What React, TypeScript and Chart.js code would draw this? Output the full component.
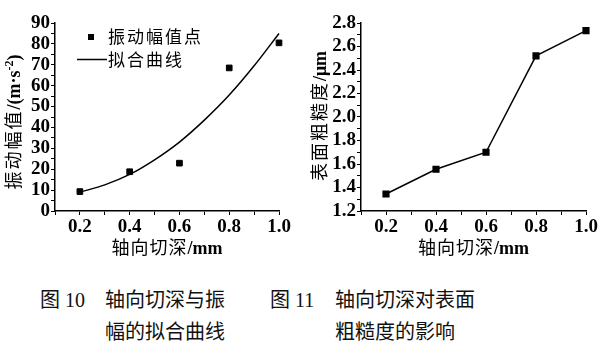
import React, { useEffect, useRef } from 'react';
import { Chart, registerables } from 'chart.js';
Chart.register(...registerables);

// ---- data ----
const depth = [0.2, 0.4, 0.6, 0.8, 1.0];
const amplitude = [9.3, 18.8, 22.9, 68.5, 80.5];
const fitDepth = [0.2, 0.3, 0.4, 0.5, 0.6, 0.7, 0.8, 0.9, 1.0];
const fitAmplitude = [9, 12.5, 17.5, 24.5, 33, 43.5, 55.5, 69.5, 85];
const roughness = [1.345, 1.555, 1.7, 2.52, 2.735];
const xTickLabels = ['0.2', '0.4', '0.6', '0.8', '1.0'];
const ampTickLabels = ['0', '10', '20', '30', '40', '50', '60', '70', '80', '90'];
const roughTickLabels = ['1.2', '1.4', '1.6', '1.8', '2.0', '2.2', '2.4', '2.6', '2.8'];
const seriesLabels = ['振动幅值点', '拟合曲线'];

const CJK = '"Noto Sans CJK SC", "Noto Sans CJK JP", sans-serif';
const SERIF = '"Liberation Serif", "DejaVu Serif", serif';

type Seg = { t: string; font: string; size: number; dy?: number; ls?: number };

function drawMixed(ctx: CanvasRenderingContext2D, segs: Seg[], cx: number, cy: number, rot: boolean) {
  ctx.save();
  ctx.translate(cx, cy);
  if (rot) ctx.rotate(-Math.PI / 2);
  ctx.textBaseline = 'alphabetic';
  ctx.textAlign = 'left';
  ctx.fillStyle = '#000';
  let total = 0;
  const widths = segs.map((s) => {
    ctx.font = s.font;
    (ctx as any).letterSpacing = (s.ls || 0) + 'px';
    const w = ctx.measureText(s.t).width;
    total += w;
    return w;
  });
  let x = -total / 2;
  const base = 6;
  segs.forEach((s, i) => {
    ctx.font = s.font;
    (ctx as any).letterSpacing = (s.ls || 0) + 'px';
    ctx.fillText(s.t, x, base + (s.dy || 0));
    x += widths[i];
  });
  ctx.restore();
}

const cjk = (t: string, size = 18, ls = 1): Seg => ({ t, font: `400 ${size}px ${CJK}`, size, ls });
const bold = (t: string, size = 18, dy = 0): Seg => ({ t, font: `bold ${size}px ${SERIF}`, size, dy });

function axisOpts(
  min: number,
  max: number,
  step: number,
  labels: string[],
  fmt: (v: number) => string,
  fitKey: 'width' | 'height',
  fitVal: number
) {
  return {
    type: 'linear' as const,
    min,
    max,
    afterFit: (s: any) => {
      s[fitKey] = fitVal;
    },
    border: { display: true, color: '#000', width: 1.5 },
    grid: {
      display: true,
      drawOnChartArea: false,
      drawTicks: true,
      tickLength: 4,
      tickColor: '#000',
      tickWidth: 1,
    },
    ticks: {
      stepSize: step,
      autoSkip: false,
      maxRotation: 0,
      color: '#000',
      padding: 1,
      font: { family: SERIF, size: 19, weight: 'bold' as const },
      callback: (v: any) => {
        const s = fmt(Number(v));
        return labels.includes(s) ? s : '';
      },
    },
    title: { display: false },
  };
}

function ChartBox(props: { left: number; build: (c: HTMLCanvasElement) => Chart }) {
  const ref = useRef<HTMLCanvasElement | null>(null);
  useEffect(() => {
    if (!ref.current) return;
    const ch = props.build(ref.current);
    return () => ch.destroy();
  }, []);
  return (
    <canvas
      ref={ref}
      width={305}
      height={262}
      style={{ position: 'absolute', left: props.left, top: 0, width: 305, height: 262 }}
    />
  );
}

const W = 305;
const H = 262;

function buildLeft(canvas: HTMLCanvasElement) {
  const area = { left: 55, right: 279, top: 23, bottom: 211 };
  return new Chart(canvas, {
    type: 'line',
    data: {
      datasets: [
        {
          label: seriesLabels[0],
          data: depth.map((x, i) => ({ x, y: amplitude[i] })),
          showLine: false,
          pointStyle: 'rect',
          pointRadius: 4,
          pointBackgroundColor: '#000',
          pointBorderColor: '#000',
          borderColor: '#000',
          clip: false as any,
        },
        {
          label: seriesLabels[1],
          data: fitDepth.map((x, i) => ({ x, y: fitAmplitude[i] })),
          borderColor: '#000',
          borderWidth: 1.5,
          pointRadius: 0,
          cubicInterpolationMode: 'monotone',
          clip: false as any,
        },
      ],
    },
    options: {
      responsive: false,
      animation: false,
      devicePixelRatio: 1,
      events: [],
      layout: { padding: { top: area.top, right: W - area.right, left: 0, bottom: 0 } },
      plugins: { legend: { display: false }, tooltip: { enabled: false } },
      scales: {
        x: axisOpts(0.1, 1.0, 0.1, xTickLabels, (v) => v.toFixed(1), 'height', H - area.bottom),
        y: axisOpts(0, 90, 5, ampTickLabels, (v) => String(Math.round(v)), 'width', area.left),
      },
    } as any,
    plugins: [
      {
        id: 'deco',
        afterDraw(chart: any) {
          const ctx = chart.ctx as CanvasRenderingContext2D;
          const ca = chart.chartArea;
          // axis titles
          drawMixed(ctx, [cjk('轴向切深'), bold('/mm')], (ca.left + ca.right) / 2, 248, false);
          drawMixed(
            ctx,
            [cjk('振动幅值', 18, 2), bold('/(m·s'), bold('-2', 12, -7), bold(')')],
            14,
            122,
            true
          );
          // legend
          ctx.save();
          ctx.fillStyle = '#000';
          ctx.fillRect(88, 34, 6, 6);
          ctx.strokeStyle = '#000';
          ctx.lineWidth = 1.5;
          ctx.beginPath();
          ctx.moveTo(77, 59.5);
          ctx.lineTo(107, 59.5);
          ctx.stroke();
          ctx.font = `400 17px ${CJK}`;
          (ctx as any).letterSpacing = '2px';
          ctx.textBaseline = 'middle';
          ctx.textAlign = 'left';
          ctx.fillText(chart.data.datasets[0].label, 108, 37);
          ctx.fillText(chart.data.datasets[1].label, 108, 60);
          ctx.restore();
        },
      },
    ],
  });
}

function buildRight(canvas: HTMLCanvasElement) {
  const area = { left: 56, right: 281, top: 23, bottom: 211 };
  return new Chart(canvas, {
    type: 'line',
    data: {
      datasets: [
        {
          label: '表面粗糙度',
          data: depth.map((x, i) => ({ x, y: roughness[i] })),
          borderColor: '#000',
          borderWidth: 1.5,
          tension: 0,
          pointStyle: 'rect',
          pointRadius: 4,
          pointBackgroundColor: '#000',
          pointBorderColor: '#000',
          clip: false as any,
        },
      ],
    },
    options: {
      responsive: false,
      animation: false,
      devicePixelRatio: 1,
      events: [],
      layout: { padding: { top: area.top, right: W - area.right, left: 0, bottom: 0 } },
      plugins: { legend: { display: false }, tooltip: { enabled: false } },
      scales: {
        x: axisOpts(0.1, 1.0, 0.1, xTickLabels, (v) => v.toFixed(1), 'height', H - area.bottom),
        y: axisOpts(1.2, 2.8, 0.1, roughTickLabels, (v) => v.toFixed(1), 'width', area.left),
      },
    } as any,
    plugins: [
      {
        id: 'deco',
        afterDraw(chart: any) {
          const ctx = chart.ctx as CanvasRenderingContext2D;
          const ca = chart.chartArea;
          drawMixed(ctx, [cjk('轴向切深'), bold('/mm')], (ca.left + ca.right) / 2, 248, false);
          drawMixed(ctx, [cjk('表面粗糙度', 18, 2), bold('/μm')], 15, 116, true);
        },
      },
    ],
  });
}

const capStyle: React.CSSProperties = {
  position: 'absolute',
  fontFamily: `"Liberation Serif", "Noto Sans CJK SC", serif`,
  fontSize: 20,
  lineHeight: '24px',
  whiteSpace: 'nowrap',
  color: '#111',
};

export default function App() {
  return (
    <div
      style={{
        position: 'absolute',
        left: 0,
        top: 0,
        width: 610,
        height: 353,
        background: '#fff',
        overflow: 'hidden',
      }}
    >
      <ChartBox left={0} build={buildLeft} />
      <ChartBox left={305} build={buildRight} />
      <div style={{ ...capStyle, left: 40, top: 288 }}>图 10</div>
      <div style={{ ...capStyle, left: 105, top: 288 }}>轴向切深与振</div>
      <div style={{ ...capStyle, left: 105, top: 320 }}>幅的拟合曲线</div>
      <div style={{ ...capStyle, left: 270, top: 288 }}>图 11</div>
      <div style={{ ...capStyle, left: 335, top: 288 }}>轴向切深对表面</div>
      <div style={{ ...capStyle, left: 335, top: 320 }}>粗糙度的影响</div>
    </div>
  );
}
